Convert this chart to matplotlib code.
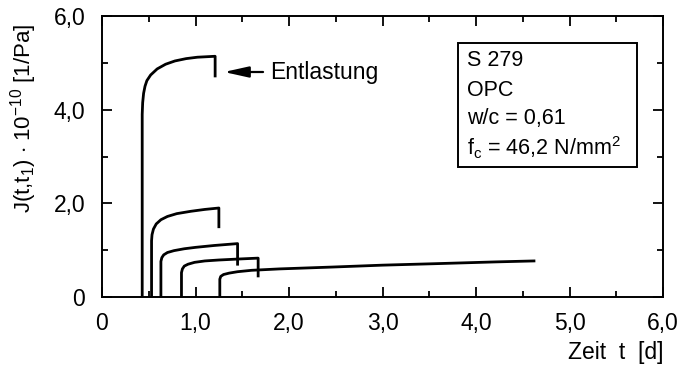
import matplotlib
matplotlib.use("Agg")
import matplotlib.pyplot as plt
from matplotlib.patches import Rectangle
from matplotlib.ticker import MultipleLocator, FixedLocator, FixedFormatter

plt.rcParams['font.family'] = ['Liberation Sans', 'DejaVu Sans']
plt.rcParams['mathtext.fontset'] = 'custom'
plt.rcParams['mathtext.rm'] = 'Liberation Sans'
plt.rcParams['mathtext.it'] = 'Liberation Sans'

# creep curves J(t,t1): (t [d], J [1e-10 1/Pa])
t_1 = [0.43, 0.43, 0.435, 0.445, 0.46, 0.48, 0.52, 0.59, 0.68, 0.78, 0.90, 1.02, 1.21, 1.21]
J_1 = [0.0, 3.9, 4.15, 4.35, 4.50, 4.62, 4.74, 4.87, 4.97, 5.04, 5.09, 5.12, 5.14, 4.72]

t_2 = [0.53, 0.53, 0.535, 0.55, 0.58, 0.63, 0.70, 0.80, 0.95, 1.10, 1.25, 1.25]
J_2 = [0.0, 1.20, 1.33, 1.45, 1.56, 1.65, 1.72, 1.78, 1.83, 1.87, 1.90, 1.50]

t_3 = [0.63, 0.63, 0.64, 0.66, 0.70, 0.77, 0.88, 1.00, 1.20, 1.45, 1.45]
J_3 = [0.0, 0.76, 0.84, 0.90, 0.95, 0.99, 1.03, 1.06, 1.10, 1.14, 0.70]

t_4 = [0.85, 0.85, 0.86, 0.88, 0.92, 0.99, 1.10, 1.25, 1.45, 1.67, 1.67]
J_4 = [0.0, 0.52, 0.60, 0.66, 0.70, 0.74, 0.77, 0.79, 0.81, 0.83, 0.45]

t_5 = [1.26, 1.26, 1.27, 1.30, 1.36, 1.45, 1.60, 1.90, 2.47, 3.00, 3.54, 4.22, 4.62]
J_5 = [0.0, 0.38, 0.44, 0.48, 0.51, 0.54, 0.57, 0.60, 0.64, 0.68, 0.71, 0.75, 0.77]

curves = [(t_1, J_1), (t_2, J_2), (t_3, J_3), (t_4, J_4), (t_5, J_5)]

x_ticks = [0, 1, 2, 3, 4, 5, 6]
x_labels = ['0', '1,0', '2,0', '3,0', '4,0', '5,0', '6,0']
y_ticks = [0, 2, 4, 6]
y_labels = ['0', '2,0', '4,0', '6,0']

info_lines = ['S 279', 'OPC', 'w/c = 0,61', r'f$_\mathrm{c}$ = 46,2 N/mm$^\mathrm{2}$']

fig = plt.figure(figsize=(6.8, 3.72), dpi=100)
ax = fig.add_axes([102 / 680, 1 - 297 / 372, 561 / 680, 281 / 372])

for t, J in curves:
    ax.plot(t, J, color='black', lw=2.0, solid_joinstyle='round')

ax.set_xlim(0, 6)
ax.set_ylim(0, 6)
ax.xaxis.set_major_locator(FixedLocator(x_ticks))
ax.xaxis.set_major_formatter(FixedFormatter(x_labels))
ax.yaxis.set_major_locator(FixedLocator(y_ticks))
ax.yaxis.set_major_formatter(FixedFormatter(y_labels))
ax.xaxis.set_minor_locator(MultipleLocator(0.5))
ax.yaxis.set_minor_locator(MultipleLocator(1.0))
ax.tick_params(which='both', direction='in', top=True, right=True,
               width=1.3, labelsize=16.5)
ax.tick_params(which='major', length=7)
ax.tick_params(which='minor', length=4.5)
ax.tick_params(axis='x', pad=11)
ax.tick_params(axis='y', pad=12)
for s in ax.spines.values():
    s.set_linewidth(1.4)

# y label placed by hand, it sits above the axes centre in the original
fig.text(24 / 680, 1 - 118 / 372,
         r'J(t,t$_\mathrm{1}$) $\cdot$ 10$^\mathrm{-10}$ [1/Pa]',
         fontsize=16, rotation=90, ha='center', va='center')
fig.text(663 / 680, 1 - 352 / 372, 'Zeit  t  [d]', fontsize=16.5,
         ha='right', va='center')

ax.annotate('Entlastung', xy=(224 / 680, 1 - 72 / 372), xycoords='figure fraction',
            xytext=(270 / 680, 1 - 72 / 372), textcoords='figure fraction',
            fontsize=16.5, va='center',
            arrowprops=dict(arrowstyle='-|>,head_length=0.9,head_width=0.2',
                            color='black', lw=1.6, shrinkA=3, shrinkB=0))

fig.patches.append(Rectangle((458 / 680, 1 - 167 / 372), 179 / 680, 124 / 372,
                             transform=fig.transFigure, fill=False,
                             edgecolor='black', lw=1.4))
for i, line in enumerate(info_lines):
    fig.text(467 / 680, 1 - (61 + 29 * i) / 372, line, fontsize=15.5,
             ha='left', va='center')

fig.savefig('out.png', dpi=100)
